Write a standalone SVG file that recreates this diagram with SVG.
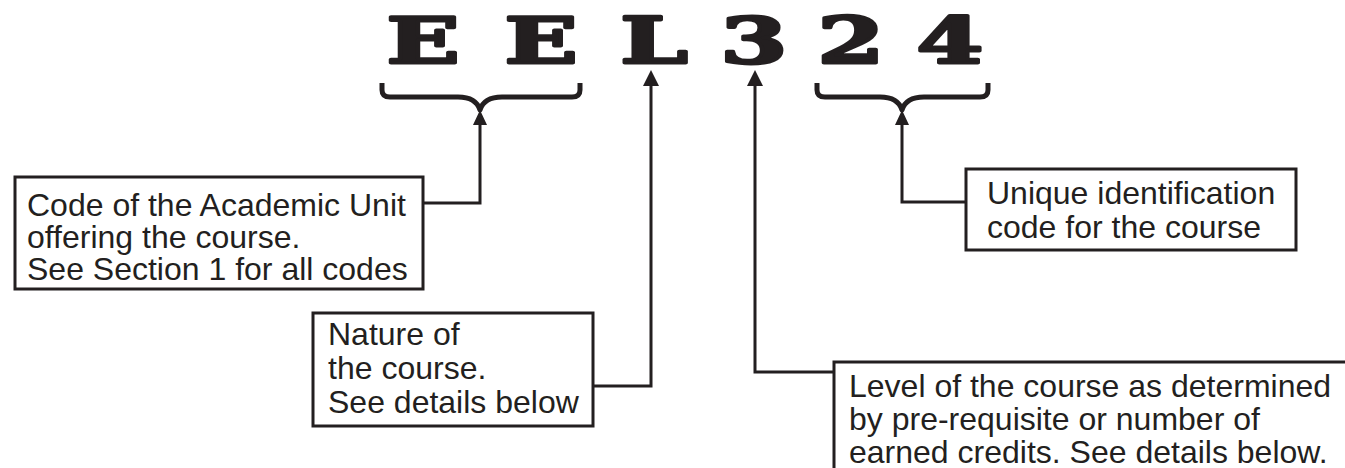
<svg xmlns="http://www.w3.org/2000/svg" width="1345" height="468" viewBox="0 0 1345 468">
<style>
.code{font-family:"DejaVu Serif",serif;font-weight:bold;font-size:64px;fill:#231f20;stroke:#231f20;stroke-width:3px;stroke-linejoin:round}
.lbl{font-family:"Liberation Sans",Arial,sans-serif;font-size:32px;fill:#231f20}
.box{fill:#fff;stroke:#231f20;stroke-width:3}
.ln{fill:none;stroke:#231f20;stroke-width:3}
.brace{fill:none;stroke:#231f20;stroke-width:5;stroke-linejoin:round}
.head{fill:#231f20}
</style>
<rect width="1345" height="468" fill="#fff"/>
<g id="code-letters">
<text class="code" text-anchor="middle" transform="translate(423,63) scale(1.5,1)">E</text>
<text class="code" text-anchor="middle" transform="translate(541,63) scale(1.5,1)">E</text>
<text class="code" text-anchor="middle" transform="translate(654,63) scale(1.5,1)">L</text>
<text class="code" text-anchor="middle" transform="translate(754,63) scale(1.5,1)">3</text>
<text class="code" text-anchor="middle" transform="translate(851,63) scale(1.5,1)">2</text>
<text class="code" text-anchor="middle" transform="translate(950,63) scale(1.5,1)">4</text>
</g>
<g id="connectors">
<path class="brace" d="M382,83 L382,90 Q382,97 390,97 L458,97 Q476,97 480,110 Q484,97 502,97 L572,97 Q580,97 580,90 L580,83"/>
<path class="brace" d="M817,83 L817,90 Q817,97 825,97 L880,97 Q898,97 902,110 Q906,97 924,97 L980,97 Q988,97 988,90 L988,83"/>
<polygon class="head" points="480,110 473,125 487,125"/>
<polyline class="ln" points="480,124 480,203 423,203"/>
<polygon class="head" points="902,110 895,125 909,125"/>
<polyline class="ln" points="902,124 902,202 966,202"/>
<polygon class="head" points="651,70 643,86 659,86"/>
<polyline class="ln" points="651,85 651,386 593,386"/>
<polygon class="head" points="755,70 747,86 763,86"/>
<polyline class="ln" points="755,85 755,372 834,372"/>
</g>
<g id="node-academic-unit">
<rect class="box" x="15" y="177" width="408" height="112"/>
<text class="lbl" x="27" y="216">Code of the Academic Unit</text>
<text class="lbl" x="27" y="248">offering the course.</text>
<text class="lbl" x="27" y="280">See Section 1 for all codes</text>
</g>
<g id="node-unique">
<rect class="box" x="966" y="169" width="330" height="81"/>
<text class="lbl" x="987" y="204">Unique identification</text>
<text class="lbl" x="987" y="238">code for the course</text>
</g>
<g id="node-nature">
<rect class="box" x="313" y="313" width="280" height="113"/>
<text class="lbl" x="328" y="345">Nature of</text>
<text class="lbl" x="328" y="379">the course.</text>
<text class="lbl" x="328" y="413">See details below</text>
</g>
<g id="node-level">
<rect class="box" x="834" y="362" width="530" height="130"/>
<text class="lbl" x="849" y="397">Level of the course as determined</text>
<text class="lbl" x="849" y="430">by pre-requisite or number of</text>
<text class="lbl" x="849" y="463">earned credits. See details below.</text>
</g>
</svg>
